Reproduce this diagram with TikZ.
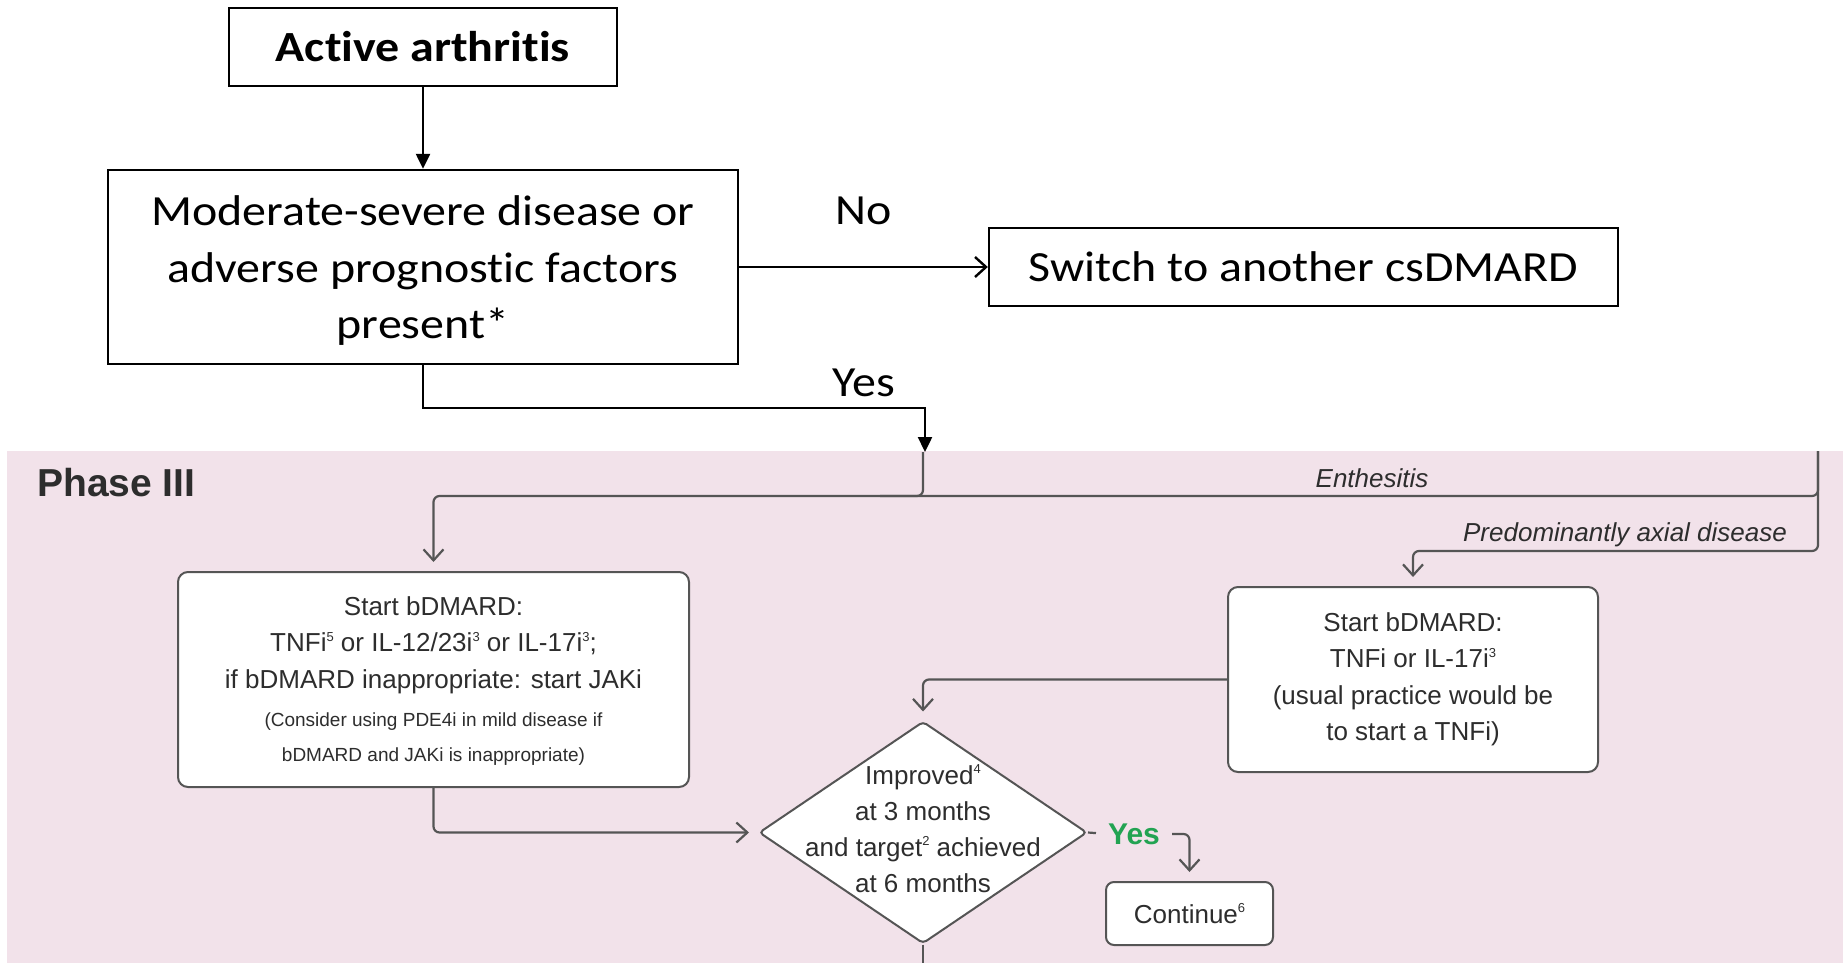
\documentclass[tikz,border=0pt]{standalone}
\usepackage{fontspec}
\setmainfont{Carlito}[FakeStretch=1.115,Ligatures=NoCommon]
\newfontfamily\arialfont{Liberation Sans}
\usetikzlibrary{arrows.meta,shapes.geometric}
\definecolor{phasebg}{RGB}{242,226,234}
\definecolor{flowline}{RGB}{85,85,85}
\definecolor{flowtext}{RGB}{45,45,45}
\definecolor{yesgreen}{RGB}{34,163,82}
% small raised footnote numbers
\newcommand{\fnref}[1]{\raisebox{0.42em}{\fontsize{13}{13}\selectfont #1}}
\begin{document}
\begin{tikzpicture}[x=1pt,y=-1pt,
  topbox/.style={draw=black,line width=2.4pt,fill=white,inner sep=0pt},
  toptext/.style={inner sep=0pt,align=center,font=\fontsize{43}{56.5}\selectfont},
  toparrow/.style={draw=black,line width=2.4pt},
  solidtip/.style={-{Triangle[length=15pt,width=14pt]}},
  opentip/.style={-{Straight Barb[length=11pt,width=20pt]}},
  card/.style={draw=flowline,line width=2pt,fill=white,rounded corners=10pt,inner sep=0pt},
  cardtext/.style={text=flowtext,align=center,inner sep=0pt,font=\arialfont\fontsize{26}{36.5}\selectfont},
  flow/.style={draw=flowline,line width=2.2pt,rounded corners=6pt},
  flowtip/.style={-{Straight Barb[length=11pt,width=20pt]},shorten >=9pt},
  branch/.style={text=flowtext,inner sep=0pt,font=\arialfont\itshape\fontsize{26}{30}\selectfont},
]
\useasboundingbox (0,0) rectangle (1843,963);

% Phase III panel
\fill[phasebg] (7,451) rectangle (1843,963);
\node[anchor=west,inner sep=0pt,text=flowtext,font=\arialfont\bfseries\fontsize{39}{45}\selectfont] (phase) at (37,483) {Phase III};

% entry decision (top)
\node[topbox,minimum width=388pt,minimum height=78pt] (act) at (423,47) {};
\node[toptext,font=\bfseries\fontsize{43}{56.5}\selectfont] (acttext) at (act) {Active arthritis};
\node[topbox,minimum width=630pt,minimum height=194pt] (mod) at (423,267) {};
\node[toptext] (modtext) at (423,271) {Moderate-severe disease or\\adverse prognostic factors\\present*};
\node[topbox,minimum width=629pt,minimum height=78pt] (sw) at (1303.5,267) {};
\node[toptext] (swtext) at (sw) {Switch to another csDMARD};
\node[toptext] (nolbl) at (864,211) {No};
\node[toptext] (yeslbl) at (864,383) {Yes};

\coordinate (yeselbow) at (925,408);
\coordinate (yesin) at (925,452);
\draw[toparrow,solidtip] (act) -- (mod);
\draw[toparrow,opentip] (mod) -- (sw);
\draw[toparrow,solidtip] (mod.south) |- (yeselbow) -- (yesin);

% Phase III boxes
\node[card,minimum width=511pt,minimum height=215pt] (lb) at (433.5,679.5) {};
\node[cardtext] (lbtext) at (433.5,681) {Start bDMARD:\\TNFi\fnref{5} or IL-12/23i\fnref{3} or IL-17i\fnref{3};\\if bDMARD inappropriate: start JAKi\\[2pt]{\fontsize{19}{23}\selectfont (Consider using PDE4i in mild disease if}\\[-2pt]{\fontsize{19}{23}\selectfont bDMARD and JAKi is inappropriate)}};
\node[card,cardtext,minimum width=370pt,minimum height=185pt] (rb) at (1413,679.5) {Start bDMARD:\\TNFi or IL-17i\fnref{3}\\(usual practice would be\\to start a TNFi)};
\node[diamond,draw=flowline,line width=2pt,fill=white,minimum width=328pt,minimum height=222pt,inner sep=0pt,rounded corners=4pt] (dm) at (923,832.5) {};
\node[cardtext,font=\arialfont\fontsize{26}{36}\selectfont] (dmtext) at (923,829) {Improved\fnref{4}\\at 3 months\\and target\fnref{2} achieved\\at 6 months};
\node[card,cardtext,minimum width=167pt,minimum height=63pt,rounded corners=8pt] (ct) at (1189.5,913.5) {Continue\fnref{6}};
\node[inner sep=0pt,text=yesgreen,font=\arialfont\bfseries\fontsize{30}{34}\selectfont] (yes) at (1134,834) {Yes};

% branch labels
\node[branch] (enth) at (1372,478) {Enthesitis};
\node[branch] (axial) at (1625,535) {Predominantly axial disease};

% Phase III connectors
\coordinate (topin) at (923,452);
\coordinate (joinL) at (880,496);
\coordinate (topR) at (1818,451);
\coordinate (enthmid) at (1372,496);
\coordinate (axmid) at (1625,551);
\coordinate (dmout) at (923,963);
\draw[flow] (topin) |- (joinL);
\draw[flow,flowtip] (topR) |- (enthmid) -| (lb.north);
\draw[flow,flowtip] (topR) |- (axmid) -| (rb.north);
\draw[flow,flowtip] (rb.west) -| (dm.north);
\draw[flow,flowtip] (lb.south) |- (dm.west);
\draw[flow,shorten >=12pt] (dm.east) -- (yes.west);
\draw[flow,flowtip,shorten <=12pt] (yes.east) -| (ct.north);
\draw[flow] (dm.south) -- (dmout);
\end{tikzpicture}
\end{document}
